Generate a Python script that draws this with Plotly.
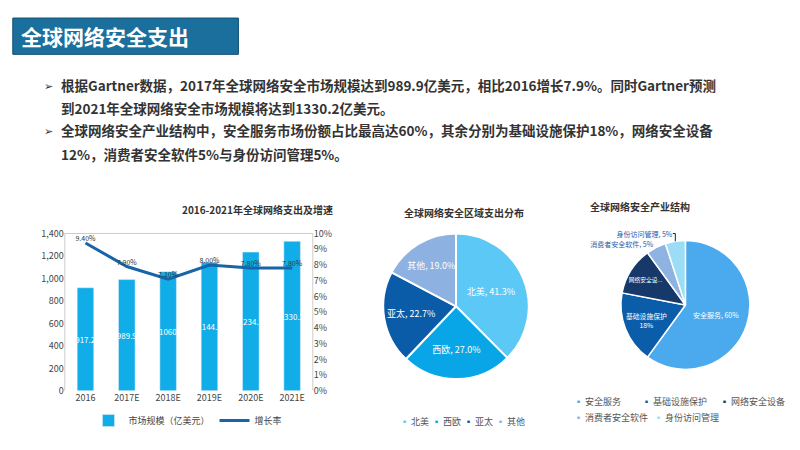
import plotly.graph_objects as go

years = ["2016", "2017E", "2018E", "2019E", "2020E", "2021E"]
market = [917.2, 989.9, 1060, 1144.5, 1234.3, 1330.2]
market_lbl = ["917.2", "989.9", "1060", "1144.5", "1234.3", "1330.2"]
growth = [9.4, 7.9, 7.1, 8.0, 7.8, 7.8]
growth_lbl = ["9.40%", "7.90%", "7.10%", "8.00%", "7.80%", "7.80%"]

regions = ["北美", "西欧", "亚太", "其他"]
region_vals = [41.3, 27.0, 22.7, 19.0]
region_cols = ["#5CC8F5", "#08A6E6", "#0B5CA8", "#8DB1E0"]

seg = ["安全服务", "基础设施保护", "网络安全设备", "消费者安全软件", "身份访问管理"]
seg_vals = [60, 18, 12, 5, 5]
seg_txt = ["安全服务, 60%", "基础设施保护<br>18%", "网络安全设...", "消费者安全软件, 5%", "身份访问管理, 5%"]
seg_cols = ["#4BA9EE", "#0B5DAA", "#17396A", "#8EB3E3", "#9BDDF7"]

bullet_lines = [
    ("➢", "根据Gartner数据，2017年全球网络安全市场规模达到989.9亿美元，相比2016增长7.9%。同时Gartner预测"),
    ("", "到2021年全球网络安全市场规模将达到1330.2亿美元。"),
    ("➢", "全球网络安全产业结构中，安全服务市场份额占比最高达60%，其余分别为基础设施保护18%，网络安全设备"),
    ("", "12%，消费者安全软件5%与身份访问管理5%。"),
]

F = "Noto Sans CJK SC"
fig = go.Figure()
fig.add_trace(go.Bar(x=years, y=market, name="市场规模（亿美元）", marker_color="#10ADE8", width=0.4,
                     text=market_lbl, textposition="inside", insidetextanchor="middle", textangle=0,
                     constraintext="none", textfont=dict(color="white", size=8)))
fig.add_trace(go.Scatter(x=years, y=growth, name="增长率", yaxis="y2", mode="lines+text",
                         line=dict(color="#1764A8", width=3), text=growth_lbl, textposition="top center",
                         textfont=dict(size=7, color="#333")))
fig.add_trace(go.Pie(labels=regions, values=region_vals, sort=False, direction="clockwise", rotation=0,
                     marker=dict(colors=region_cols, line=dict(color="white", width=2)),
                     texttemplate="%{label}, %{value:.1f}%", textposition="inside", insidetextorientation="horizontal",
                     textfont=dict(color="white", size=9), domain=dict(x=[0.466, 0.654], y=[0.167, 0.5]),
                     showlegend=False))
fig.add_trace(go.Pie(labels=seg, values=seg_vals, sort=False, direction="clockwise", rotation=0,
                     marker=dict(colors=seg_cols, line=dict(color="white", width=1.5)),
                     text=seg_txt, texttemplate="%{text}",
                     textposition=["inside", "inside", "inside", "outside", "outside"], insidetextorientation="horizontal",
                     textfont=dict(color=["white", "white", "white", "#2A5CA8", "#2A5CA8"], size=7),
                     domain=dict(x=[0.7625, 0.931], y=[0.189, 0.484]), showlegend=False))

def legend_items(names, cols, xs, ys):
    out = []
    for n, c, x, y in zip(names, cols, xs, ys):
        out.append(dict(text=f"<span style='color:{c}'>▪</span> {n}", x=x, y=y, xref="paper", yref="paper",
                        xanchor="left", yanchor="middle", showarrow=False, font=dict(size=9, color="#555")))
    return out

ann = [
    dict(text="<b>全球网络安全支出</b>", x=0.014, y=0.952, xref="paper", yref="paper", xanchor="left",
         yanchor="middle", showarrow=False, font=dict(size=21, color="white")),
    dict(text="<b>2016-2021年全球网络支出及增速</b>", x=0.215, y=0.555, xref="paper", yref="paper",
         showarrow=False, font=dict(size=10, color="#333")),
    dict(text="<b>全球网络安全区域支出分布</b>", x=0.57, y=0.548, xref="paper", yref="paper",
         showarrow=False, font=dict(size=10, color="#333")),
    dict(text="<b>全球网络安全产业结构</b>", x=0.855, y=0.562, xref="paper", yref="paper",
         showarrow=False, font=dict(size=10, color="#333")),
]
for (b, t), ypx in zip(bullet_lines, [72, 96, 118, 143]):
    yy = 1 - ypx / 450
    if b:
        ann.append(dict(text=b, x=0.043, y=yy, xref="paper", yref="paper", xanchor="left", yanchor="middle",
                        showarrow=False, font=dict(size=11, color="#333")))
    ann.append(dict(text=f"<b>{t}</b>", x=0.064, y=yy, xref="paper", yref="paper", xanchor="left",
                    yanchor="middle", showarrow=False, font=dict(size=13.5, color="#333")))
ann += legend_items(regions, region_cols, [0.488, 0.527, 0.567, 0.607], [0.07] * 4)
ann += legend_items(seg, seg_cols, [0.705, 0.79, 0.887, 0.705, 0.805], [0.115, 0.115, 0.115, 0.078, 0.078])

fig.update_layout(
    width=800, height=450, margin=dict(l=0, r=0, t=0, b=0), paper_bgcolor="white", plot_bgcolor="white",
    font=dict(family=F, color="#444", size=9), bargap=0.5,
    xaxis=dict(domain=[0.071, 0.381], showline=False, ticks="", tickfont=dict(size=9)),
    yaxis=dict(domain=[0.14, 0.5], range=[0, 1400], dtick=200, tickformat=",", showgrid=False, zeroline=False,
               tickfont=dict(size=9)),
    yaxis2=dict(overlaying="y", side="right", range=[0, 10], dtick=1, ticksuffix="%", showgrid=False,
                tickfont=dict(size=9)),
    showlegend=True,
    legend=dict(orientation="h", x=0.225, xanchor="center", y=0.072, yanchor="middle", font=dict(size=9)),
    shapes=[
        dict(type="rect", xref="paper", yref="paper", x0=0.006, x1=0.288, y0=0.91, y1=0.993, layer="below",
             fillcolor="#1B6F9C", line=dict(color="#0D4E72", width=1)),
        dict(type="rect", xref="paper", yref="paper", x0=0.071, x1=0.381, y0=0.14, y1=0.5, layer="below",
             line=dict(color="#ccc", width=1)),
    ],
    annotations=ann,
)
fig.write_html("out.html")
